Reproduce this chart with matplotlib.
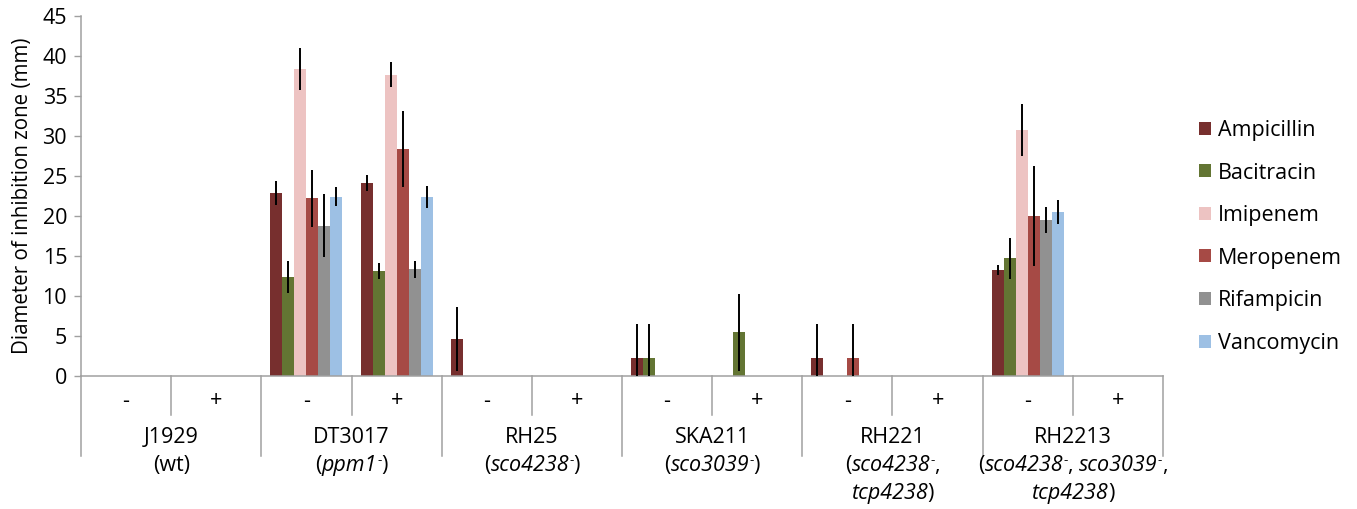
import matplotlib
matplotlib.use("Agg")
import matplotlib.pyplot as plt
import matplotlib.transforms as mtransforms
from matplotlib.lines import Line2D
from matplotlib.patches import Patch
import numpy as np

plt.rcParams['font.family'] = ['Open Sans', 'DejaVu Sans']

# ---- data ----
antibiotics = ['Ampicillin', 'Bacitracin', 'Imipenem', 'Meropenem', 'Rifampicin', 'Vancomycin']
colors = ['#772F2E', '#637533', '#EDC3C2', '#A64A45', '#919191', '#9DC0E4']
treatments = ['-', '+']
strains = ['J1929', 'DT3017', 'RH25', 'SKA211', 'RH221', 'RH2213']
# genotype labels as rich-text pieces: (text, style) with style n=normal, i=italic, s=superscript
genotypes = [
    [[('(wt)', 'n')]],
    [[('(', 'n'), ('ppm1', 'i'), ('-', 's'), (')', 'n')]],
    [[('(', 'n'), ('sco4238', 'i'), ('-', 's'), (')', 'n')]],
    [[('(', 'n'), ('sco3039', 'i'), ('-', 's'), (')', 'n')]],
    [[('(', 'n'), ('sco4238', 'i'), ('-', 's'), (',', 'n')],
     [('tcp4238', 'i'), (')', 'n')]],
    [[('(', 'n'), ('sco4238', 'i'), ('-', 's'), (', ', 'n'), ('sco3039', 'i'), ('-', 's'), (',', 'n')],
     [('tcp4238', 'i'), (')', 'n')]],
]

# values per group (J1929-, J1929+, DT3017-, DT3017+, RH25-, RH25+, SKA211-, SKA211+, RH221-, RH221+, RH2213-, RH2213+)
ampicillin = [0, 0, 22.9, 24.1, 4.6, 0, 2.2, 0, 2.2, 0, 13.2, 0]
bacitracin = [0, 0, 12.3, 13.1, 0, 0, 2.2, 5.4, 0, 0, 14.7, 0]
imipenem   = [0, 0, 38.4, 37.7, 0, 0, 0, 0, 0, 0, 30.8, 0]
meropenem  = [0, 0, 22.2, 28.4, 0, 0, 0, 0, 2.2, 0, 20.0, 0]
rifampicin = [0, 0, 18.8, 13.3, 0, 0, 0, 0, 0, 0, 19.5, 0]
vancomycin = [0, 0, 22.4, 22.4, 0, 0, 0, 0, 0, 0, 20.5, 0]

ampicillin_err = [0, 0, 1.5, 1.0, 4.0, 0, 4.2, 0, 4.2, 0, 0.6, 0]
bacitracin_err = [0, 0, 2.0, 0.95, 0, 0, 4.2, 4.8, 0, 0, 2.55, 0]
imipenem_err   = [0, 0, 2.6, 1.55, 0, 0, 0, 0, 0, 0, 3.25, 0]
meropenem_err  = [0, 0, 3.6, 4.75, 0, 0, 0, 0, 4.2, 0, 6.3, 0]
rifampicin_err = [0, 0, 4.0, 1.1, 0, 0, 0, 0, 0, 0, 1.6, 0]
vancomycin_err = [0, 0, 1.2, 1.4, 0, 0, 0, 0, 0, 0, 1.55, 0]

values = [ampicillin, bacitracin, imipenem, meropenem, rifampicin, vancomycin]
errors = [ampicillin_err, bacitracin_err, imipenem_err, meropenem_err, rifampicin_err, vancomycin_err]

FS = 15.5
W, H = 1357, 509
fig = plt.figure(figsize=(W / 100, H / 100), dpi=100)
ax = fig.add_axes([81 / W, (H - 375.5) / H, (1163 - 81) / W, (375.5 - 16.5) / H])

ngroups = len(strains) * len(treatments)
x = np.arange(ngroups) + 0.5
nb = len(antibiotics)
bw = 1.0 / (nb + 1.5)
for i, (name, vals, errs, c) in enumerate(zip(antibiotics, values, errors, colors)):
    pos = x + (i - (nb - 1) / 2) * bw
    v = np.array(vals, dtype=float)
    e = np.array(errs, dtype=float)
    ax.bar(pos, v, width=bw, color=c, edgecolor='none', label=name, zorder=2)
    mask = e > 0
    ax.errorbar(pos[mask], v[mask], yerr=e[mask], fmt='none', ecolor='black',
                elinewidth=1.4, capsize=0, zorder=3)

ax.set_xlim(0, ngroups)
ax.set_ylim(0, 45)
ax.set_yticks(np.arange(0, 46, 5))
ax.tick_params(axis='y', labelsize=FS, length=5, width=1, color='#A0A0A0', pad=5)
ax.set_xticks([])
for s in ['top', 'right']:
    ax.spines[s].set_visible(False)
for s in ['left', 'bottom']:
    ax.spines[s].set_color('#A0A0A0')
    ax.spines[s].set_linewidth(1.1)
ax.set_ylabel('Diameter of inhibition zone (mm)', fontsize=14.8, labelpad=7)

# multi-level category axis
tr = mtransforms.blended_transform_factory(ax.transData, fig.transFigure)
def fy(p):
    return 1 - p / H

for k in range(ngroups + 1):
    y_end = 455.5 if k % 2 == 0 else 415
    ax.add_line(Line2D([k, k], [fy(375.5), fy(y_end)], transform=tr, color='#A0A0A0',
                       lw=1.1, clip_on=False))
for k in range(ngroups):
    ax.text(k + 0.5, fy(401), treatments[k % 2], transform=tr, ha='center', va='center',
            fontsize=FS)
for j, s in enumerate(strains):
    ax.text(2 * j + 1, fy(443), s, transform=tr, ha='center', va='baseline', fontsize=FS)

# rich text for genotype lines
renderer = fig.canvas.get_renderer()
ident = mtransforms.IdentityTransform()

def piece_props(style):
    if style == 'i':
        return dict(fontsize=FS, style='italic'), 0
    if style == 's':
        return dict(fontsize=FS * 0.62), 7
    return dict(fontsize=FS), 0

def text_width(txt, props):
    t1 = fig.text(0, 0, txt + 'x', **props)
    t2 = fig.text(0, 0, 'x', **props)
    w = t1.get_window_extent(renderer).width - t2.get_window_extent(renderer).width
    t1.remove(); t2.remove()
    return w

baselines = [471, 499]
for j, lines in enumerate(genotypes):
    xc = ax.transData.transform((2 * j + 1, 0))[0]
    for li, pieces in enumerate(lines):
        widths = [text_width(t, piece_props(st)[0]) for t, st in pieces]
        xs = xc - sum(widths) / 2
        yb = H - baselines[li]
        for (t, st), w in zip(pieces, widths):
            props, rise = piece_props(st)
            fig.text(xs, yb + rise, t, transform=ident, ha='left', va='baseline', **props)
            xs += w

handles = [Patch(facecolor=c, edgecolor='none') for c in colors]
fig.legend(handles, antibiotics, loc='upper left', bbox_to_anchor=(1199 / W, 1 - 120 / H),
           frameon=False, fontsize=FS, handlelength=0.55, handleheight=0.55,
           handletextpad=0.35, labelspacing=1.0, borderaxespad=0, borderpad=0)

fig.savefig('out.png', dpi=100)
